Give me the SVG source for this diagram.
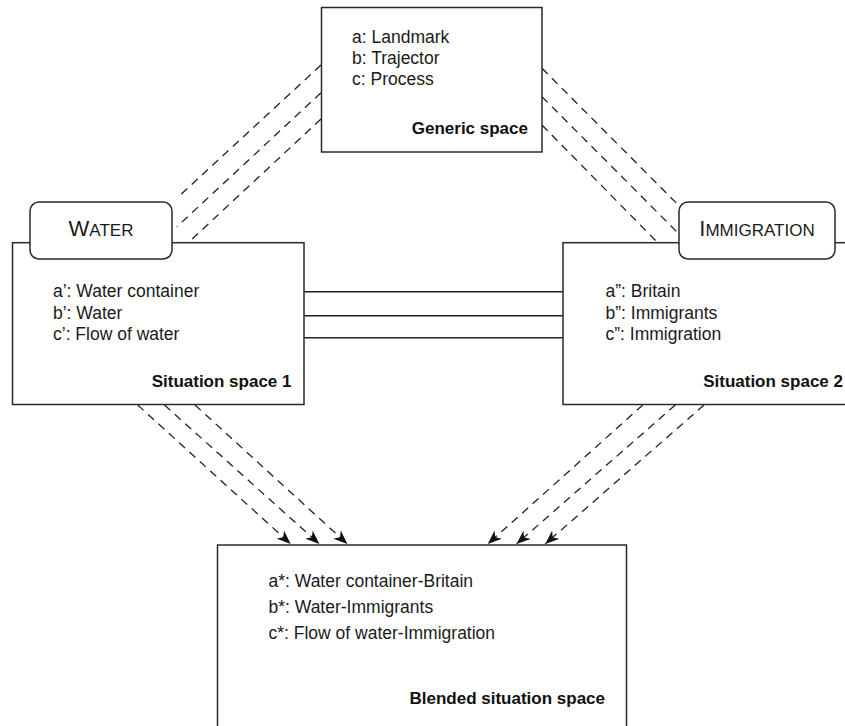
<svg xmlns="http://www.w3.org/2000/svg" width="845" height="726" viewBox="0 0 845 726">
<style>
.box{fill:#fff;stroke:#2a2a2a;stroke-width:1.5}
.lbl{fill:#fff;stroke:#2a2a2a;stroke-width:1.5}
.dash{fill:none;stroke:#222;stroke-width:1.3;stroke-dasharray:8 6}
.solid{fill:none;stroke:#222;stroke-width:1.4}
.t{font-family:"Liberation Sans",Arial,sans-serif;font-size:17.5px;fill:#1a1a1a}
.b{font-family:"Liberation Sans",Arial,sans-serif;font-size:17px;font-weight:bold;fill:#111;text-anchor:end}
.sc{font-family:"Liberation Sans",Arial,sans-serif;fill:#1a1a1a;text-anchor:middle}
</style>
<defs>
<marker id="arr" viewBox="0 0 14 11" refX="14" refY="5.5" markerWidth="14" markerHeight="11" markerUnits="userSpaceOnUse" orient="auto">
<path d="M0,0 L14,5.5 L0,11 L4,5.5 Z" fill="#111" stroke="none"/>
</marker>
</defs>
<g id="connectors">
<line class="dash" x1="321" y1="65" x2="177" y2="198"/>
<line class="dash" x1="321" y1="92.7" x2="177" y2="226.7"/>
<line class="dash" x1="321" y1="119" x2="189.3" y2="241.7"/>
<line class="dash" x1="542" y1="68.3" x2="678.3" y2="205"/>
<line class="dash" x1="542" y1="96.7" x2="678.3" y2="233.3"/>
<line class="dash" x1="542" y1="125" x2="656.7" y2="241.7"/>
<line class="solid" x1="304" y1="291.7" x2="563" y2="291.7"/>
<line class="solid" x1="304" y1="315.7" x2="563" y2="315.7"/>
<line class="solid" x1="304" y1="337.7" x2="563" y2="337.7"/>
<line class="dash" x1="137.7" y1="405" x2="290.7" y2="544" marker-end="url(#arr)"/>
<line class="dash" x1="164.4" y1="405" x2="319.4" y2="544" marker-end="url(#arr)"/>
<line class="dash" x1="195" y1="405" x2="347.4" y2="544" marker-end="url(#arr)"/>
<line class="dash" x1="642.8" y1="405" x2="487.8" y2="544" marker-end="url(#arr)"/>
<line class="dash" x1="675.3" y1="405" x2="516.5" y2="544" marker-end="url(#arr)"/>
<line class="dash" x1="704" y1="405" x2="545.2" y2="544" marker-end="url(#arr)"/>
</g>
<g id="generic">
<rect class="box" x="321.5" y="7.5" width="220.5" height="144.5"/>
<text class="t" x="352" y="43">a: Landmark</text>
<text class="t" x="352" y="64">b: Trajector</text>
<text class="t" x="352" y="85">c: Process</text>
<text class="b" x="528" y="134">Generic space</text>
</g>
<g id="situation1">
<rect class="box" x="12.5" y="242.7" width="291.5" height="161.8"/>
<rect class="lbl" x="30" y="202" width="142" height="57" rx="9"/>
<text class="sc" x="101" y="236"><tspan font-size="22">W</tspan><tspan font-size="17">ATER</tspan></text>
<text class="t" x="53" y="297">a’: Water container</text>
<text class="t" x="53" y="318.5">b’: Water</text>
<text class="t" x="53" y="340">c’: Flow of water</text>
<text class="b" x="291.5" y="387">Situation space 1</text>
</g>
<g id="situation2">
<rect class="box" x="563" y="242.7" width="292" height="161.8"/>
<rect class="lbl" x="679" y="202" width="156" height="57" rx="9"/>
<text class="sc" x="757" y="236"><tspan font-size="22">I</tspan><tspan font-size="17">MMIGRATION</tspan></text>
<text class="t" x="605.5" y="297">a”: Britain</text>
<text class="t" x="605.5" y="318.5">b”: Immigrants</text>
<text class="t" x="605.5" y="340">c”: Immigration</text>
<text class="b" x="843" y="387">Situation space 2</text>
</g>
<g id="blended">
<rect class="box" x="217.5" y="545" width="409" height="182"/>
<text class="t" x="268.5" y="587">a*: Water container-Britain</text>
<text class="t" x="268.5" y="613">b*: Water-Immigrants</text>
<text class="t" x="268.5" y="639">c*: Flow of water-Immigration</text>
<text class="b" x="605" y="704">Blended situation space</text>
</g>
</svg>
